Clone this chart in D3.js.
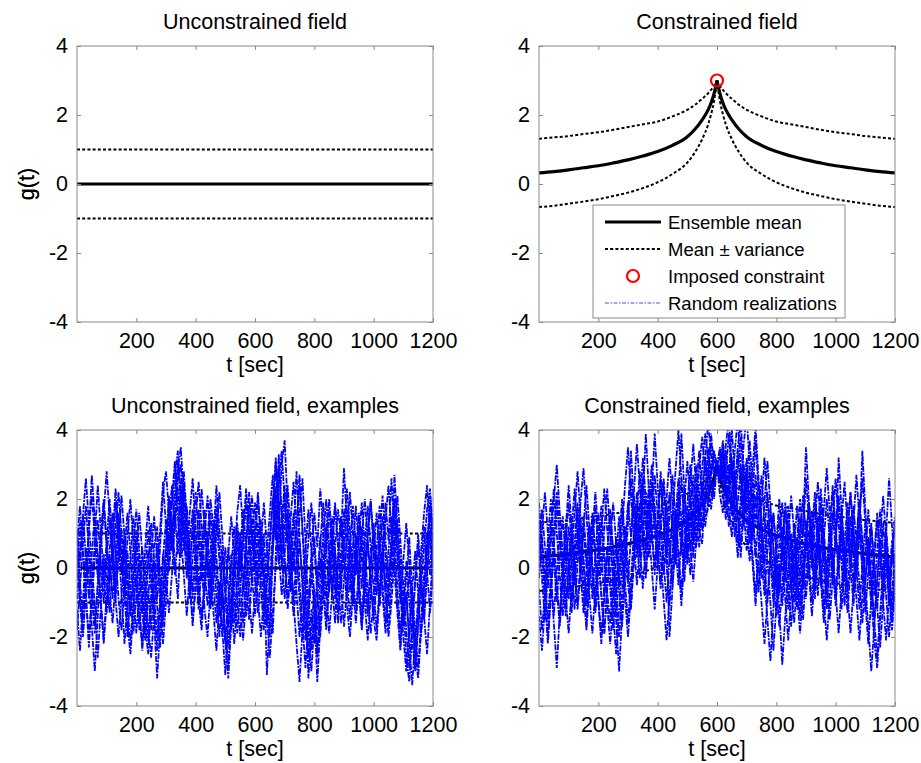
<!DOCTYPE html>
<html>
<head>
<meta charset="utf-8">
<script src="https://cdn.jsdelivr.net/npm/d3@7"></script>
<style>
  body { margin: 0; background: #fff; }
  svg { display: block; }
  text { font-family: "Liberation Sans", Arial, Helvetica, sans-serif; fill: #000; }
</style>
</head>
<body>
<svg id="chart" width="921" height="763"></svg>
<script>
// ---------------- DATA ----------------
const xTickValues = [200, 400, 600, 800, 1000, 1200];
const yTickValues = [-4, -2, 0, 2, 4];
const panelTitles = ["Unconstrained field", "Constrained field",
                     "Unconstrained field, examples", "Constrained field, examples"];
const legendLabels = ["Ensemble mean", "Mean \u00b1 variance", "Imposed constraint", "Random realizations"];

// unconstrained ensemble statistics
const tUnc = [0, 1200];
const meanUnc = [0, 0];
const upperUnc = [1, 1];
const lowerUnc = [-1, -1];

// constrained ensemble statistics
const tCon = [0, 50, 100, 150, 200, 250, 300, 350, 400, 450, 500, 525, 550, 570, 580, 590, 595, 600,
              605, 610, 620, 630, 650, 675, 700, 750, 800, 850, 900, 950, 1000, 1050, 1100, 1150, 1200];
const meanCon = [0.32, 0.36, 0.41, 0.47, 0.53, 0.61, 0.70, 0.81, 0.94, 1.12, 1.37, 1.58, 1.86, 2.15, 2.35, 2.62, 2.80, 3.00,
                 2.80, 2.62, 2.35, 2.15, 1.86, 1.58, 1.37, 1.12, 0.94, 0.81, 0.70, 0.61, 0.53, 0.47, 0.41, 0.36, 0.32];
const upperCon = [1.31, 1.35, 1.39, 1.45, 1.50, 1.57, 1.65, 1.73, 1.81, 1.96, 2.15, 2.29, 2.47, 2.63, 2.73, 2.84, 2.91, 3.00,
                  2.91, 2.84, 2.73, 2.63, 2.47, 2.29, 2.15, 1.96, 1.81, 1.73, 1.65, 1.57, 1.50, 1.45, 1.39, 1.35, 1.31];
const lowerCon = [-0.67, -0.63, -0.57, -0.51, -0.44, -0.35, -0.25, -0.12, 0.05, 0.29, 0.62, 0.91, 1.30, 1.72, 2.02, 2.40, 2.68, 3.00,
                  2.68, 2.40, 2.02, 1.72, 1.30, 0.91, 0.62, 0.29, 0.05, -0.12, -0.25, -0.35, -0.44, -0.51, -0.57, -0.63, -0.67];
const constraintT = [600];
const constraintG = [3];

// sample times of the random realizations (every 10 s)
const tReal = d3.range(0, 1201, 10);

// unconstrained random realizations
const U1 = [0.4,-0.8,-1.9,-0.6,1.2,2.1,0.9,-0.3,0.5,1.6,2.8, 1.5,0.2,-0.9,0.3,1.1,0.4,-1.2,-2.1,-1.0,-0.2,
  -1.4,-2.2,-0.8,0.5,-0.6,-1.5,-3.2,-1.8,0.3,1.4, 0.6,1.9,2.7,3.4,2.2,1.0,-0.3,0.8,1.7,0.4,
  -0.9,-1.8,-0.5,0.9,2.0,1.1,-0.2,-1.4,-0.6,-2.1, -3.2,-1.6,0.2,1.3,0.5,-0.7,0.6,1.8,0.9,-0.4,
  -1.3,-0.2,1.0,-0.8,-2.0,0.4,2.3,1.2,3.0,3.7, 1.8,0.3,-0.9,0.2,1.5,2.6,0.8,-1.1,-2.4,-1.3,
  -3.3,-1.7,0.1,1.2,0.3,-0.8,0.6,1.7,0.9,2.9, 1.3,-0.2,-1.1,0.4,1.6,0.7,-0.5,-1.4,0.2,1.1,
  0.1,-1.0,0.5,1.9,0.8,2.6,1.0,-0.6,-1.8,-0.9, -2.6,-3.3,-1.9,-0.4,0.7,-0.6,-1.5,0.3,2.1,0.8];
const U2 = [-1.2,-2.4,-1.0,0.6,-0.3,-1.7,-3.0,-1.4,0.2,-0.5,0.8, 2.0,0.7,-0.6,1.4,0.3,-0.9,0.5,-0.7,-1.9,-0.8,
  0.4,-0.5,-1.7,-2.5,-1.1,0.2,-0.9,0.6,2.2,2.8, 1.6,0.5,1.8,2.9,3.5,2.0,0.7,-0.4,-1.5,-0.6,
  0.8,2.3,1.2,-0.1,-1.2,-0.3,1.0,2.2,0.9,-0.5, -1.7,-0.8,-2.2,-1.0,0.5,1.7,0.6,-0.8,-1.9,-0.7,
  0.5,1.4,0.2,-3.1,-1.5,0.8,3.2,1.9,0.4,2.1, 0.6,-0.7,0.4,1.3,2.7,1.1,-0.8,-3.2,-1.9,-0.6,
  -1.8,-0.4,0.9,2.0,0.6,-0.5,-1.6,0.2,1.4,0.3, -0.9,0.6,1.8,0.7,-0.6,-1.7,-0.4,0.9,1.9,0.5,
  -0.8,0.4,1.5,0.3,-1.1,0.2,2.7,1.2,-0.3,-1.6, -0.7,-2.2,-3.4,-2.0,-0.9,0.5,1.6,2.4,0.7,-0.6];
const U3 = [1.1,0.2,1.5,2.6,1.3,0.1,-1.1,-2.6,-1.2,0.4,-0.4, -1.3,0.1,1.2,2.2,1.0,-0.3,-1.6,-2.5,-1.3,0.5,
  1.6,0.4,-0.9,-2.1,-0.8,0.6,1.2,-0.2,-1.4,-0.5, 0.7,2.0,3.1,1.5,0.3,2.4,1.3,-0.5,-1.7,-0.4,
  1.1,0.1,-1.2,-2.0,-0.6,0.9,2.4,1.1,0.2,-0.7, 0.4,1.5,0.3,-0.9,-2.0,-0.6,0.7,2.2,1.0,-0.1,
  1.3,0.2,-1.4,-0.3,0.9,2.0,0.8,3.3,1.5,0.1, -1.2,-0.2,1.1,2.8,0.9,-0.6,-2.1,-1.0,0.4,1.6,
  0.6,2.3,1.1,-0.5,-1.9,-0.7,0.5,-0.4,-1.6,-0.3, 0.9,2.2,1.0,-0.2,0.8,1.9,0.6,-0.7,-1.9,-0.9,
  0.5,1.8,0.6,-0.8,-2.0,-1.0,0.3,1.4,0.2,-1.2, -0.3,0.9,-0.8,-2.8,-1.6,-0.2,-1.4,-2.5,-1.0,0.6];
const U4 = [-0.3,1.3,0.4,-0.9,-2.0,-0.7,0.8,2.4,1.1,-0.2,-1.3, -0.4,0.8,1.9,0.6,-0.7,-2.2,-1.1,0.3,1.5,0.2,
  -1.0,-2.4,-1.3,0.1,1.3,0.2,-1.1,-2.3,-0.9,0.7, 2.1,1.0,-0.2,0.9,2.5,1.2,0.1,1.6,2.6,1.0,
  -0.3,-1.5,-0.4,1.0,-0.2,-1.3,-2.4,-1.0,0.5,-0.8, -2.3,-1.1,0.3,1.6,2.4,1.0,-0.4,-1.5,-0.2,1.1,
  2.2,0.8,-0.5,-1.7,-0.6,0.6,1.8,0.5,-0.8,0.4, 1.6,0.5,-1.0,-2.2,-3.3,-1.8,-0.5,0.8,1.9,0.6,
  -0.8,-2.0,-0.7,0.6,1.7,0.4,-0.9,0.3,1.5,0.2, -1.1,-2.0,-0.8,0.5,-0.6,-1.8,-0.5,0.8,-0.4,-1.5,
  -0.3,1.0,2.1,0.8,-0.4,0.5,1.6,0.3,-1.0,0.2, 1.3,0.1,-1.1,-2.3,-1.2,0.0,1.2,-0.1,-1.3,-0.2];
const U5 = [0.9,-0.4,-1.5,-0.2,1.0,2.7,1.4,0.2,-1.0,-2.0,-0.8, 0.5,1.6,0.4,-0.9,-1.8,-0.6,0.9,2.0,0.7,-0.6,
  -1.8,-0.7,0.6,1.8,0.5,-0.8,-2.0,-0.9,0.4,-0.3, -1.3,-0.2,1.3,2.6,3.0,1.6,0.4,-0.9,0.3,1.5,
  2.5,1.2,0.0,-1.1,0.2,1.4,0.3,-0.9,-2.0,-0.8, 0.6,-0.5,-1.6,-0.3,1.0,-0.2,-1.4,-0.5,0.8,1.9,
  0.7,-0.6,-1.8,-0.5,0.7,1.9,3.1,1.6,0.3,-0.9, 0.2,1.4,2.5,1.1,-0.4,-1.6,-2.9,-1.5,-0.2,0.9,
  -0.5,0.7,1.9,0.6,-0.7,0.5,1.8,0.7,-0.5,-1.7, -0.6,0.7,-0.5,-1.6,-0.4,0.9,2.0,0.8,-0.4,-1.5,
  -2.1,-0.8,0.4,-0.7,0.5,1.5,0.3,-1.0,-2.2,-1.1, 0.2,-1.0,-2.1,-3.0,-1.7,-0.5,0.6,1.7,2.3,1.1];
const U6 = [-1.8,-0.6,0.7,1.8,0.5,-0.8,-1.9,-0.6,0.9,1.9,0.6, -0.7,-1.6,-0.4,0.8,2.1,0.9,-0.4,-1.4,-0.3,0.9,
  -0.2,-1.3,-2.1,-0.9,0.4,1.5,0.3,-1.0,-2.2,-1.0, 0.3,1.4,0.2,-0.9,1.0,2.4,1.1,0.0,1.2,2.2,
  0.9,-0.4,1.0,2.1,0.8,-0.5,-1.6,-0.4,-1.8,-3.1, -1.5,0.0,1.2,0.1,-1.2,-2.1,-0.9,0.4,1.5,0.3,
  -0.9,-2.0,-0.8,0.5,1.6,2.7,1.3,0.1,1.4,2.4, 1.1,-0.2,-1.4,-0.4,0.8,-0.3,-1.6,-2.6,-1.2,-2.2,
  -1.0,0.3,-0.6,-1.8,-0.5,0.8,1.9,0.6,-0.6,0.6, 1.7,0.4,-0.9,0.3,1.4,0.2,-1.0,-2.1,-0.8,0.5,
  1.6,0.4,-0.8,-1.9,-0.6,0.7,1.8,0.6,-0.7,-2.0, -3.0,-1.9,-0.6,0.5,-0.8,-2.0,-0.7,0.6,1.5,0.2];
const U7 = [0.7,1.8,0.5,-0.7,-2.3,-1.0,0.3,1.4,0.2,-1.0,0.3, 1.4,0.3,-0.9,-2.0,-0.8,0.5,1.6,0.4,-0.8,-1.9,
  -0.7,0.6,-0.5,-1.7,-2.6,-1.3,0.0,1.1,2.5,1.2, -0.1,1.0,2.2,3.1,1.7,0.5,1.8,0.6,-0.7,0.5,
  1.7,0.5,-0.8,0.4,1.6,0.4,-0.9,-2.0,-0.7,0.6, -0.6,-1.8,-0.5,0.8,-0.4,-1.6,-0.3,0.9,2.1,0.8,
  -0.5,0.7,1.9,0.6,-0.7,-1.9,0.4,2.6,3.4,1.9, 0.6,-0.6,0.6,-0.7,-2.0,-0.8,0.5,1.7,0.5,-0.8,
  -2.4,-1.1,0.2,-0.9,0.3,1.5,0.4,-0.8,0.5,1.7, 0.5,-0.7,0.6,1.8,0.6,-0.6,0.7,1.8,0.6,-0.6,
  -1.8,-0.5,0.7,-0.5,-1.7,-0.4,0.9,2.1,0.8,-0.5, -1.8,-2.9,-1.6,-0.3,1.0,-0.3,-1.5,-0.2,1.1,-0.1];
const U8 = [-0.9,0.3,1.5,0.3,-0.9,0.4,1.6,0.4,-0.9,-2.2,-1.0, 0.3,-0.9,0.4,1.6,0.4,-0.8,-2.0,-0.7,0.6,1.7,
  0.5,-0.8,-1.9,-0.6,-1.8,-0.5,0.7,-0.5,-1.7,0.1, 1.3,2.4,1.1,2.3,1.0,-0.2,-1.4,-0.1,1.2,0.0,
  -1.2,0.1,1.3,0.1,-1.1,0.2,1.4,0.2,-1.0,-2.2, -0.9,0.4,-0.8,-1.9,-0.6,0.7,1.9,0.7,-0.5,0.8,
  2.0,0.8,-0.4,-1.6,-0.3,1.0,2.2,2.9,1.6,0.3, -0.9,0.4,1.6,0.4,-0.9,-2.1,-0.8,-2.0,-3.0,-1.6,
  -0.3,0.9,-0.3,-1.5,-0.2,1.1,-0.1,-1.3,0.0,1.2, 2.3,1.1,-0.1,-1.3,0.0,1.2,0.0,-1.2,0.1,1.3,
  0.1,-1.1,0.2,1.4,2.4,1.1,-0.1,-1.3,-2.4,-1.1, -0.8,-2.0,-0.7,-1.9,-2.9,-1.5,-0.2,1.0,-0.2,0.9];
const U9 = [0.2,-1.0,-2.0,-0.7,0.6,-0.5,-1.7,-0.4,0.8,2.0,0.8, -0.4,0.9,2.3,1.0,-0.2,1.0,-0.2,-1.4,-0.2,1.1,
  -0.1,-1.3,-0.1,1.1,-0.1,-1.3,-2.4,-1.1,-0.6,0.6, 1.8,0.5,1.6,0.4,1.6,2.8,1.5,0.3,-0.9,0.4,
  -0.8,0.5,1.7,0.5,-0.7,0.6,1.8,0.6,-0.6,-1.9, -2.8,-1.4,-0.1,1.1,-0.1,1.1,2.3,1.0,-0.2,-1.4,
  -0.2,1.0,-0.2,-1.4,-2.6,-1.3,0.0,1.2,0.0,1.2, 2.4,1.1,-0.1,1.1,2.4,1.1,-0.1,-1.3,-0.1,-1.3,
  -2.6,-1.3,-0.1,1.1,2.0,0.8,-0.4,-1.6,-0.3,0.9, -0.3,-1.5,-0.2,1.0,-0.2,-1.4,-0.1,1.1,2.0,0.8,
  -0.4,0.8,-0.4,-1.6,-0.3,0.9,2.0,0.7,-0.5,-1.7, -1.1,-0.1,-1.4,-2.5,-3.2,-1.8,-0.5,0.7,1.8,0.6];

// constrained random realizations (all pass through g(600) = 3)
const C1 = [1.3,0.2,-0.9,-2.2,-0.8,0.6,1.9,0.8,-0.4,1.1,2.4, 1.2,0.0,-1.1,0.3,1.5,0.4,-0.8,-1.9,-0.6,0.7,
  1.8,0.5,-0.7,-1.6,-0.3,0.9,-0.5,-1.7,-0.2,1.3, 2.6,1.4,0.3,1.6,3.2,2.0,0.8,2.1,3.9,2.4,
  1.1,-0.2,0.9,2.2,1.0,0.1,1.4,2.6,1.3,0.4, 1.5,2.7,1.4,0.6,1.9,3.1,4.2,3.3,2.7,3.0,
  3.5,2.4,3.6,4.3,2.9,1.6,2.8,3.8,2.5,1.3, 0.2,1.4,2.7,1.5,0.3,-0.8,0.5,1.7,0.6,-0.6,
  -1.7,-0.5,0.7,1.8,0.6,-0.5,0.8,2.0,0.9,2.6, 1.4,0.2,-0.9,0.3,1.5,0.4,-0.8,0.5,1.6,0.5,
  3.2,1.6,0.4,-0.7,0.6,1.8,0.7,-0.5,-1.6,-0.4, 0.8,-0.4,-1.5,-0.3,0.9,2.1,0.9,-0.3,0.8,-0.5];
const C2 = [-0.6,-1.8,-0.7,0.7,-0.4,-1.6,-2.9,-1.3,0.1,1.3,0.2, -1.0,0.4,1.6,0.5,-0.7,-1.8,-0.5,0.6,1.8,0.5,
  -0.8,-1.9,-0.6,0.7,-0.4,-1.5,-3.0,-1.4,0.3,1.6, 3.4,1.8,0.6,1.9,0.8,-0.3,1.2,2.4,1.1,0.0,
  1.3,2.5,0.9,-2.0,-0.6,0.8,2.0,3.9,2.2,0.9, -0.2,1.1,2.3,3.4,2.0,1.2,1.9,2.7,3.4,3.0,
  2.1,1.6,2.8,3.9,2.6,1.4,0.3,1.5,3.0,1.8, 0.7,2.0,3.7,2.2,0.9,-0.3,-1.5,-2.7,-1.2,0.1,
  -1.2,-2.8,-1.4,-0.2,1.0,-0.1,-1.2,-0.2,1.1,3.5, 1.9,0.6,-0.6,0.7,1.9,0.8,-0.4,-1.5,-0.3,0.9,
  2.0,0.8,-0.4,1.0,2.2,0.9,-0.3,1.1,3.4,1.7, 0.4,-0.9,-2.1,-2.9,-1.5,-0.2,1.0,2.6,1.2,0.0];
const C3 = [0.5,1.7,0.6,-0.6,0.7,2.0,3.0,1.6,0.4,-0.8,-1.9, -0.6,0.7,1.9,0.7,-0.5,-1.6,-0.3,1.0,2.2,1.0,
  -0.2,1.1,2.3,1.0,-0.3,-1.4,-0.2,1.1,2.4,3.5, 2.1,0.8,-0.5,0.7,2.0,3.9,2.3,1.0,-0.2,1.2,
  2.8,1.5,0.3,1.5,2.7,1.4,0.2,-1.1,0.3,1.6, 0.6,-0.4,0.8,2.1,2.9,3.9,3.2,2.1,2.4,3.0,
  2.5,3.6,2.2,1.2,2.1,3.4,4.3,2.9,1.7,0.5, 1.6,2.9,4.1,2.6,1.3,0.1,-1.0,0.3,1.6,0.5,
  -0.7,0.6,1.9,0.7,-0.5,-1.6,-0.4,0.9,2.1,0.9, -0.3,1.0,2.2,1.0,-0.2,-1.3,-0.1,1.2,0.0,-1.1,
  0.2,1.4,2.5,1.2,0.0,1.3,2.7,1.4,0.2,-1.0, -2.2,-0.9,0.4,1.6,0.4,-0.8,0.5,-0.7,-1.8,-0.6];
const C4 = [1.6,0.4,-0.8,-2.0,-0.7,0.5,-0.6,-1.7,-0.4,0.8,1.9, 0.7,-0.5,0.7,1.9,2.9,1.5,0.3,-0.9,0.4,1.6,
  0.4,-0.8,0.5,1.7,0.5,-0.8,-2.0,-0.7,0.6,-0.5, -1.2,0.3,1.6,2.8,1.5,0.4,1.8,3.0,1.7,0.6,
  -0.5,0.8,2.0,3.2,1.9,0.7,-0.5,0.9,2.3,1.1, 2.4,3.6,2.3,1.1,0.7,2.2,3.5,2.6,2.0,3.0,
  3.3,2.1,1.4,2.6,4.0,2.7,1.5,0.3,1.6,2.9, 1.6,0.4,-0.8,0.5,1.8,3.2,1.9,0.6,-0.6,0.7,
  2.0,0.8,-0.4,0.9,2.1,1.0,-0.2,-1.4,-0.2,1.0, -0.2,-1.4,-0.2,1.1,2.3,1.1,-0.1,1.2,2.4,1.2,
  0.0,-1.2,0.1,1.3,0.1,-1.1,0.2,1.4,2.6,1.3, 0.1,1.3,0.1,-1.1,-2.3,-1.0,0.3,-0.9,0.4,1.5];
const C5 = [-1.4,-2.4,-1.1,0.2,1.4,0.2,-1.0,0.3,1.5,0.3,-0.9, 0.4,1.6,2.8,1.5,0.3,-0.9,0.4,1.6,0.4,-0.8,
  -2.0,-0.7,0.6,-0.6,-1.8,-0.5,0.8,2.0,0.8,-0.4, 0.9,2.2,3.6,2.3,1.0,-0.2,1.1,0.0,-1.2,0.1,
  1.4,2.6,1.4,0.2,1.5,2.8,4.0,2.6,1.3,0.1, 1.4,0.3,1.6,2.9,3.8,2.8,2.3,3.0,3.3,3.0,
  2.7,3.0,1.8,2.4,3.1,1.8,0.7,2.1,3.6,4.4, 3.0,1.7,0.5,-0.7,0.6,1.9,3.1,1.8,0.6,-0.6,
  0.7,1.9,0.7,-0.5,-1.7,-0.4,0.9,-0.3,-1.5,-0.2, 1.1,0.0,1.3,2.5,1.2,0.0,-1.2,0.1,1.4,2.6,
  1.3,0.1,-1.1,0.2,1.5,0.3,-0.9,-2.1,-0.8,0.5, 1.7,0.5,-0.8,0.5,1.7,0.4,-0.8,-2.0,-0.7,0.4];
const C6 = [0.2,1.0,2.2,1.0,-0.2,-1.4,-0.1,1.1,0.0,-1.2,0.1, 1.3,0.1,-1.2,-0.1,1.2,2.4,1.1,-0.1,-1.3,-0.1,
  1.1,2.3,1.1,-0.1,-1.3,-2.5,-1.2,0.1,1.2,0.1, -1.1,0.2,1.4,0.3,2.6,1.4,0.3,1.5,2.7,1.5,
  0.3,-0.9,-2.1,-0.8,0.5,1.7,0.5,-0.7,0.6,1.8, 3.0,1.8,0.6,1.6,2.4,1.6,2.9,3.9,2.9,3.0,
  2.9,3.7,2.8,1.7,0.9,2.2,3.5,4.2,2.9,1.6, 2.8,1.5,0.3,1.5,2.7,1.4,0.2,-1.0,-2.4,-1.1,
  0.1,-1.1,0.2,1.4,0.2,-1.0,0.3,1.5,0.3,-0.9, 0.4,1.6,0.4,-0.8,0.5,1.7,2.9,1.6,0.4,-0.8,
  0.5,1.7,0.5,-0.7,-1.9,-0.6,0.7,1.9,0.7,-0.5, -1.7,-3.0,-1.7,-0.4,0.8,-0.4,0.9,-0.3,-1.5,-0.2];
const C7 = [0.9,-0.3,-1.5,-0.2,1.1,2.3,1.0,-0.2,-1.4,-0.1,1.2, 0.0,-1.2,0.1,1.3,0.1,-1.1,0.2,1.4,0.2,-1.0,
  -2.2,-0.9,0.4,1.6,0.4,-0.8,0.5,1.7,0.5,1.9, 0.9,2.1,0.9,-0.3,1.0,2.2,1.0,2.5,1.3,0.1,
  1.4,0.2,-1.0,0.3,1.5,0.3,1.6,0.4,1.9,3.1, 1.9,0.7,2.0,1.2,2.5,1.9,2.6,3.6,3.2,3.0,
  3.2,2.6,3.4,2.5,1.5,2.7,1.5,0.7,2.0,3.2, 2.0,0.8,2.1,0.9,-0.3,1.0,2.2,1.0,-0.2,-1.4,
  -0.1,1.2,0.0,-1.2,0.1,1.3,0.1,-1.1,0.2,1.4, 0.2,-1.0,0.3,1.5,0.3,-0.9,-2.1,-0.8,0.5,-0.7,
  -1.9,-0.6,0.7,1.9,0.7,-0.5,0.8,2.0,0.8,-0.4, 0.9,-0.3,-1.5,-2.6,-1.3,0.0,1.2,0.0,-1.2,0.1];
const C8 = [-0.3,0.9,-0.3,-1.5,-0.2,1.0,2.2,1.0,-0.2,-1.4,-0.1, -1.3,-0.1,1.1,-0.1,-1.3,-0.1,1.2,0.0,-1.2,0.1,
  1.3,0.1,-1.1,-2.2,-1.0,0.3,1.5,0.3,-0.9,-2.0, -0.7,0.6,1.8,0.6,-0.6,0.7,1.9,0.7,1.8,0.6,
  -0.6,0.7,1.9,0.7,-0.5,0.8,2.0,0.8,-0.4,0.9, 2.1,0.9,2.2,1.4,2.3,3.2,2.4,1.7,2.5,3.0,
  2.6,3.3,2.2,3.0,1.9,0.9,1.9,2.9,1.7,2.5, 1.3,0.1,-1.1,0.2,-1.0,-2.2,-0.9,0.4,1.6,0.4,
  -0.8,0.5,1.7,0.5,-0.7,0.6,1.8,0.6,-0.6,0.7, 1.9,0.7,-0.5,0.8,-0.4,-1.6,-0.3,1.0,2.2,1.0,
  -0.2,1.1,-0.1,-1.3,0.0,1.2,0.0,-1.2,0.1,1.3, 0.1,-1.1,0.2,1.4,0.2,-1.0,-2.1,-0.8,0.5,1.2];
const C9 = [1.9,0.7,-0.5,0.8,2.0,0.8,-0.4,-1.6,-0.3,1.0,-0.2, 1.1,2.3,1.1,-0.1,1.2,0.0,1.3,0.1,-1.1,0.2,
  -0.7,-1.9,-0.6,0.7,1.9,0.7,-0.5,0.8,-0.4,-1.6, -0.3,1.0,2.2,1.0,2.3,1.1,2.4,1.2,0.0,1.3,
  2.5,1.3,0.1,-1.1,0.2,1.4,2.6,1.4,0.2,1.5, 0.5,1.8,3.0,1.8,1.1,2.4,1.9,2.8,3.1,3.0,
  2.8,3.4,2.6,1.9,3.2,2.0,3.4,2.4,1.2,2.5, 3.7,2.4,1.2,2.5,1.3,0.1,1.4,0.2,-1.0,0.3,
  1.5,0.3,-0.9,-2.1,-0.8,0.5,-0.7,-1.9,-0.6,0.7, 1.9,0.7,1.9,0.7,-0.5,0.8,2.0,0.8,-0.4,0.9,
  2.1,0.9,-0.3,1.0,2.2,1.0,-0.2,1.1,-0.1,-1.3, -0.1,1.2,0.0,-1.2,0.1,1.3,0.1,-1.1,0.2,1.4];

const uncRealizations = [U1, U2, U3, U4, U5, U6, U7, U8, U9];
const conRealizations = [C1, C2, C3, C4, C5, C6, C7, C8, C9];

// ---------------- DRAWING ----------------
const svg = d3.select("#chart");
const PW = 356, PH = 276;
const FONT = 21.5;
const axisGray = "#8a8a8a";
const panels = [
  { x: 77,  y: 46,  title: panelTitles[0], kind: "unc", examples: false },
  { x: 539, y: 46,  title: panelTitles[1], kind: "con", examples: false },
  { x: 77,  y: 430, title: panelTitles[2], kind: "unc", examples: true },
  { x: 539, y: 430, title: panelTitles[3], kind: "con", examples: true }
];

const xS = d3.scaleLinear().domain([0, 1200]).range([0, PW]);
const yS = d3.scaleLinear().domain([-4, 4]).range([PH, 0]);
const plainFmt = d => String(d);   // plain hyphen minus, no thousands separator

panels.forEach((p, pi) => {
  const g = svg.append("g").attr("transform", `translate(${p.x},${p.y})`);
  const clipId = "clip" + pi;
  svg.append("clipPath").attr("id", clipId)
    .append("rect").attr("x", 0).attr("y", 0).attr("width", PW).attr("height", PH);
  const plot = g.append("g").attr("clip-path", `url(#${clipId})`);

  const tArr = p.kind === "unc" ? tUnc : tCon;
  const mArr = p.kind === "unc" ? meanUnc : meanCon;
  const uArr = p.kind === "unc" ? upperUnc : upperCon;
  const lArr = p.kind === "unc" ? lowerUnc : lowerCon;

  // statistic curves, drawn as left / right halves so the cusp at 600 stays sharp
  const allIdx = tArr.map((t, i) => i);
  const halves = p.kind === "unc" ? [allIdx]
    : [allIdx.filter(i => tArr[i] <= 600), allIdx.filter(i => tArr[i] >= 600)];
  const statLine = arr => d3.line().x(i => xS(tArr[i])).y(i => yS(arr[i])).curve(d3.curveMonotoneX);

  halves.forEach(idx => {
    [uArr, lArr].forEach(arr => {
      plot.append("path").attr("d", statLine(arr)(idx))
        .attr("fill", "none").attr("stroke", "#000").attr("stroke-width", 2)
        .attr("stroke-dasharray", "3,2.2");
    });
    plot.append("path").attr("d", statLine(mArr)(idx))
      .attr("fill", "none").attr("stroke", "#000").attr("stroke-width", 3.2);
  });

  if (p.examples) {
    const reals = p.kind === "unc" ? uncRealizations : conRealizations;
    const rl = d3.line().x((v, i) => xS(tReal[i])).y(v => yS(v));
    reals.forEach(r => {
      plot.append("path").attr("d", rl(r))
        .attr("fill", "none").attr("stroke", "#0000ff").attr("stroke-width", 1.75)
        .attr("stroke-dasharray", "6,1.2,2,1.2");
    });
  }

  if (p.kind === "con" && !p.examples) {
    plot.selectAll("circle.cons").data(constraintT).enter().append("circle")
      .attr("class", "cons")
      .attr("cx", t => xS(t)).attr("cy", (t, i) => yS(constraintG[i]))
      .attr("r", 6).attr("fill", "none").attr("stroke", "#ff0000").attr("stroke-width", 2.2);
  }

  // box
  g.append("rect").attr("x", 0).attr("y", 0).attr("width", PW).attr("height", PH)
    .attr("fill", "none").attr("stroke", axisGray).attr("stroke-width", 1);

  // axes
  const styleAxis = sel => {
    sel.select(".domain").remove();
    sel.selectAll(".tick line").attr("stroke", axisGray);
    sel.selectAll(".tick text").style("font-size", FONT + "px").attr("fill", "#000")
      .style("font-family", '"Liberation Sans", Arial, sans-serif');
  };
  g.append("g").attr("transform", `translate(0,${PH})`)
    .call(d3.axisBottom(xS).tickValues(xTickValues).tickFormat(plainFmt).tickSize(-4).tickPadding(10.5))
    .call(styleAxis);
  g.append("g")
    .call(d3.axisTop(xS).tickValues(xTickValues).tickSize(-4).tickFormat(""))
    .call(styleAxis);
  g.append("g")
    .call(d3.axisLeft(yS).tickValues(yTickValues).tickFormat(plainFmt).tickSize(-4).tickPadding(9))
    .call(styleAxis);
  g.append("g").attr("transform", `translate(${PW},0)`)
    .call(d3.axisRight(yS).tickValues(yTickValues).tickSize(-4).tickFormat(""))
    .call(styleAxis);

  // labels
  g.append("text").attr("x", PW / 2).attr("y", -17).attr("text-anchor", "middle")
    .style("font-size", FONT + "px").text(p.title);
  g.append("text").attr("x", PW / 2).attr("y", PH + 50).attr("text-anchor", "middle")
    .style("font-size", FONT + "px").text("t [sec]");
  g.append("text").attr("transform", `translate(${33.5 - p.x},${PH / 2}) rotate(-90)`)
    .attr("text-anchor", "middle").style("font-size", FONT + "px").text("g(t)");

  // legend
  if (p.kind === "con" && !p.examples) {
    const lg = svg.append("g").attr("transform", "translate(593,205)");
    lg.append("rect").attr("x", 0).attr("y", 0).attr("width", 252).attr("height", 113)
      .attr("fill", "#fff").attr("stroke", axisGray).attr("stroke-width", 1);
    const rowY = [17, 44, 71, 98];
    legendLabels.forEach((lab, i) => {
      const yy = rowY[i];
      if (i === 0) {
        lg.append("line").attr("x1", 12).attr("x2", 68).attr("y1", yy).attr("y2", yy)
          .attr("stroke", "#000").attr("stroke-width", 3.2);
      } else if (i === 1) {
        lg.append("line").attr("x1", 12).attr("x2", 68).attr("y1", yy).attr("y2", yy)
          .attr("stroke", "#000").attr("stroke-width", 2).attr("stroke-dasharray", "3,2.2");
      } else if (i === 2) {
        lg.append("circle").attr("cx", 40).attr("cy", yy).attr("r", 6)
          .attr("fill", "none").attr("stroke", "#ff0000").attr("stroke-width", 2.2);
      } else {
        lg.append("line").attr("x1", 12).attr("x2", 68).attr("y1", yy).attr("y2", yy)
          .attr("stroke", "#4d4dff").attr("stroke-width", 1).attr("stroke-dasharray", "4,1.5,1.5,1.5");
      }
      lg.append("text").attr("x", 75).attr("y", yy + 6.5).style("font-size", "18.5px").text(lab);
    });
  }
});
</script>
</body>
</html>
